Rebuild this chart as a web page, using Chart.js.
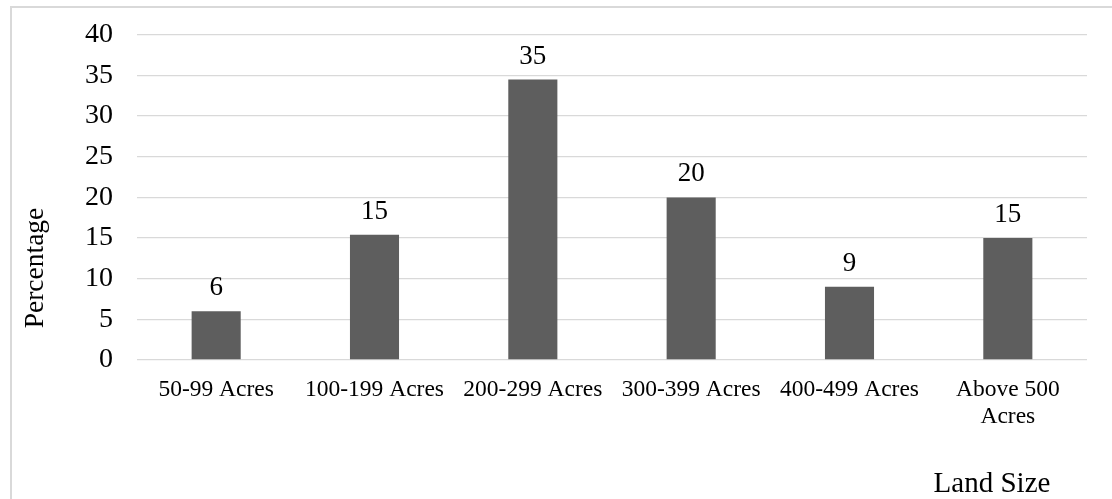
<!DOCTYPE html>
<html>
<head>
<meta charset="utf-8">
<script src="https://cdn.jsdelivr.net/npm/chart.js@4"></script>
<style>
  html, body { margin: 0; padding: 0; background: #fff; overflow: hidden; }
  #frame { position: absolute; left: 10px; top: 6px; width: 1200px; height: 600px; border: 2px solid #d9d9d9; }
  #wrap { position: absolute; left: 0; top: 0; width: 1112px; height: 499px; }
</style>
</head>
<body>
<div id="frame"></div>
<div id="wrap"><canvas id="landChart" width="1112" height="499"></canvas></div>
<script>
const categories = ["50-99 Acres", "100-199 Acres", "200-299 Acres", "300-399 Acres", "400-499 Acres", ["Above 500", "Acres"]];
const percentages = [6, 15.4, 34.5, 20, 9, 15];
const yTicks = [0, 5, 10, 15, 20, 25, 30, 35, 40];

const serif = "'Liberation Serif', 'Times New Roman', serif";

// value labels above each bar
const barLabels = {
  id: "barLabels",
  afterDatasetsDraw(chart) {
    const c = chart.ctx;
    const meta = chart.getDatasetMeta(0);
    c.save();
    c.font = "27px " + serif;
    c.fillStyle = "#000";
    c.textAlign = "center";
    c.textBaseline = "alphabetic";
    meta.data.forEach((bar, i) => {
      c.fillText(String(Math.round(percentages[i])), bar.x, bar.y - 16);
    });
    c.restore();
  }
};

const axisTitles = {
  id: "axisTitles",
  afterDraw(chart) {
    const c = chart.ctx;
    c.save();
    c.fillStyle = "#000";
    c.textAlign = "center";
    c.textBaseline = "middle";
    c.font = "27.5px " + serif;
    c.translate(36, 268);
    c.rotate(-Math.PI / 2);
    c.fillText("Percentage", 0, 0);
    c.restore();
    c.save();
    c.fillStyle = "#000";
    c.textAlign = "center";
    c.textBaseline = "middle";
    c.font = "29px " + serif;
    c.fillText("Land Size", 992, 484);
    c.restore();
  }
};

const ctx = document.getElementById("landChart");

new Chart(ctx, {
  type: "bar",
  data: {
    labels: categories,
    datasets: [{
      data: percentages,
      backgroundColor: "#5e5e5e",
      borderWidth: 0,
      categoryPercentage: 1,
      barPercentage: 0.31
    }]
  },
  options: {
    responsive: false,
    animation: false,
    layout: { padding: { top: 0, right: 25, left: 0, bottom: 0 } },
    plugins: {
      legend: { display: false },
      tooltip: { enabled: false }
    },
    scales: {
      x: {
        grid: { display: false, drawTicks: false },
        border: { display: false },
        ticks: {
          color: "#000",
          font: { family: serif, size: 23.5, lineHeight: 1.15 },
          padding: 16,
          maxRotation: 0,
          autoSkip: false
        },
        afterFit(scale) { scale.height = 139; }
      },
      y: {
        min: 0,
        max: 40,
        afterBuildTicks(scale) { scale.ticks = yTicks.map(v => ({ value: v })); },
        grid: { color: "#d9d9d9", lineWidth: 1.3, drawTicks: true, tickLength: 6, tickColor: "rgba(0,0,0,0)" },
        border: { display: false },
        ticks: {
          color: "#000",
          font: { family: serif, size: 28, lineHeight: 1.2 },
          padding: 18
        },
        afterFit(scale) { scale.width = 137; }
      }
    }
  },
  plugins: [barLabels, axisTitles]
});
</script>
</body>
</html>
